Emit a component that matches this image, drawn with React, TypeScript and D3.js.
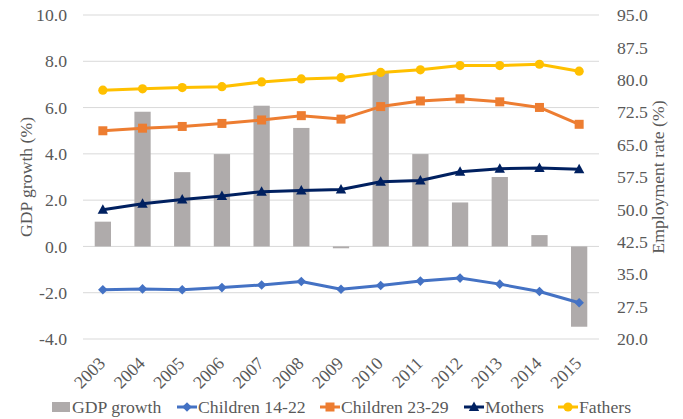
import React from "react";
import * as d3 from "d3";

const years = ["2003","2004","2005","2006","2007","2008","2009","2010","2011","2012","2013","2014","2015"];
const gdpGrowth = [1.07, 5.82, 3.21, 3.99, 6.08, 5.12, -0.08, 7.55, 3.99, 1.9, 3.0, 0.49, -3.47];
const children1422 = [31.4, 31.6, 31.4, 31.9, 32.5, 33.3, 31.5, 32.4, 33.4, 34.1, 32.7, 31.0, 28.4];
const children2329 = [68.2, 68.8, 69.2, 69.9, 70.7, 71.7, 70.9, 73.8, 75.1, 75.6, 74.9, 73.6, 69.7];
const mothers = [49.9, 51.3, 52.3, 53.1, 54.1, 54.4, 54.6, 56.4, 56.7, 58.7, 59.4, 59.6, 59.3];
const fathers = [77.6, 77.9, 78.2, 78.4, 79.5, 80.2, 80.5, 81.7, 82.3, 83.3, 83.3, 83.6, 82.0];
const leftTicks = [-4, -2, 0, 2, 4, 6, 8, 10];
const rightTicks = [20, 27.5, 35, 42.5, 50, 57.5, 65, 72.5, 80, 87.5, 95];

const W = 683, H = 419;
const FONT = "Liberation Serif, DejaVu Serif, serif";
const TXT = "#595959";
const FS = 17.7;

type Shape = "diamond" | "square" | "triangle" | "circle";
const series: { name: string; values: number[]; color: string; shape: Shape }[] = [
  { name: "Children 14-22", values: children1422, color: "#4472C4", shape: "diamond" },
  { name: "Children 23-29", values: children2329, color: "#ED7D31", shape: "square" },
  { name: "Mothers", values: mothers, color: "#002060", shape: "triangle" },
  { name: "Fathers", values: fathers, color: "#FFC000", shape: "circle" },
];

function Marker({ shape, x, y, color }: { shape: Shape; x: number; y: number; color: string }) {
  if (shape === "circle") return <circle cx={x} cy={y} r={4.6} fill={color} />;
  if (shape === "square") return <rect x={x - 4.5} y={y - 4.5} width={9} height={9} fill={color} />;
  if (shape === "diamond")
    return <path d={`M${x},${y - 4.8}L${x + 4.8},${y}L${x},${y + 4.8}L${x - 4.8},${y}Z`} fill={color} />;
  return <path d={`M${x},${y - 5.5}L${x + 5.2},${y + 4}L${x - 5.2},${y + 4}Z`} fill={color} />;
}

export default function App() {
  const x = d3.scaleBand<string>().domain(years).range([83, 599]).padding(0);
  const bw = x.bandwidth();
  const cx = (y: string) => (x(y) as number) + bw / 2;
  const yL = d3.scaleLinear().domain([-4, 10]).range([339, 15]);
  const yR = d3.scaleLinear().domain([20, 95]).range([339, 15]);
  const barW = bw * 0.41;

  const line = d3
    .line<number>()
    .x((_, i) => cx(years[i]))
    .y((d) => yR(d));

  const legendItems = [
    { kind: "bar", name: "GDP growth", x: 52 },
    { kind: "line", name: "Children 14-22", x: 177, s: series[0] },
    { kind: "line", name: "Children 23-29", x: 320, s: series[1] },
    { kind: "line", name: "Mothers", x: 464, s: series[2] },
    { kind: "line", name: "Fathers", x: 558, s: series[3] },
  ];

  const ts: React.CSSProperties = { fontFamily: FONT };
  const LY = 407;

  return (
    <svg width={W} height={H} style={{ position: "absolute", left: 0, top: 0, background: "#fff", fontFamily: FONT }}>
      {leftTicks.map((t) => (
        <line key={t} x1={83} x2={599} y1={yL(t)} y2={yL(t)} stroke="#D9D9D9" strokeWidth={1} />
      ))}
      {gdpGrowth.map((v, i) => (
        <rect
          key={years[i]}
          x={cx(years[i]) - barW / 2}
          y={Math.min(yL(v), yL(0))}
          width={barW}
          height={Math.max(Math.abs(yL(v) - yL(0)), 1.5)}
          fill="#AFABAB"
        />
      ))}
      {series.map((s) => (
        <g key={s.name}>
          <path d={line(s.values) || ""} fill="none" stroke={s.color} strokeWidth={3} strokeLinejoin="round" />
          {s.values.map((v, i) => (
            <Marker key={i} shape={s.shape} x={cx(years[i])} y={yR(v)} color={s.color} />
          ))}
        </g>
      ))}
      {leftTicks.map((t) => (
        <text key={t} style={ts} x={67} y={yL(t)} dy="0.35em" textAnchor="end" fontSize={FS} fill={TXT}>
          {t.toFixed(1)}
        </text>
      ))}
      {rightTicks.map((t) => (
        <text key={t} style={ts} x={617} y={yR(t)} dy="0.35em" textAnchor="start" fontSize={FS} fill={TXT}>
          {t.toFixed(1)}
        </text>
      ))}
      {years.map((yr) => (
        <text
          key={yr}
          style={ts}
          transform={`translate(${cx(yr) - 1},${360}) rotate(-45)`}
          dy="0.35em"
          textAnchor="end"
          fontSize={FS}
          fill={TXT}
        >
          {yr}
        </text>
      ))}
      <text style={ts} transform={`translate(26,${(15 + 339) / 2}) rotate(-90)`} textAnchor="middle" dy="0.35em" fontSize={FS} fill={TXT}>
        GDP growth (%)
      </text>
      <text style={ts} transform={`translate(658,${(15 + 339) / 2}) rotate(-90)`} textAnchor="middle" dy="0.35em" fontSize={FS} fill={TXT}>
        Employment rate (%)
      </text>
      {legendItems.map((it) => (
        <g key={it.name}>
          {it.kind === "bar" ? (
            <rect x={it.x} y={LY - 5} width={18} height={10} fill="#AFABAB" />
          ) : (
            <g>
              <line x1={it.x} x2={it.x + 20} y1={LY} y2={LY} stroke={it.s!.color} strokeWidth={3} />
              <Marker shape={it.s!.shape} x={it.x + 10} y={LY} color={it.s!.color} />
            </g>
          )}
          <text style={ts} x={it.kind === "bar" ? it.x + 20 : it.x + 21} y={LY} dy="0.35em" fontSize={FS} fill={TXT}>
            {it.name}
          </text>
        </g>
      ))}
    </svg>
  );
}
